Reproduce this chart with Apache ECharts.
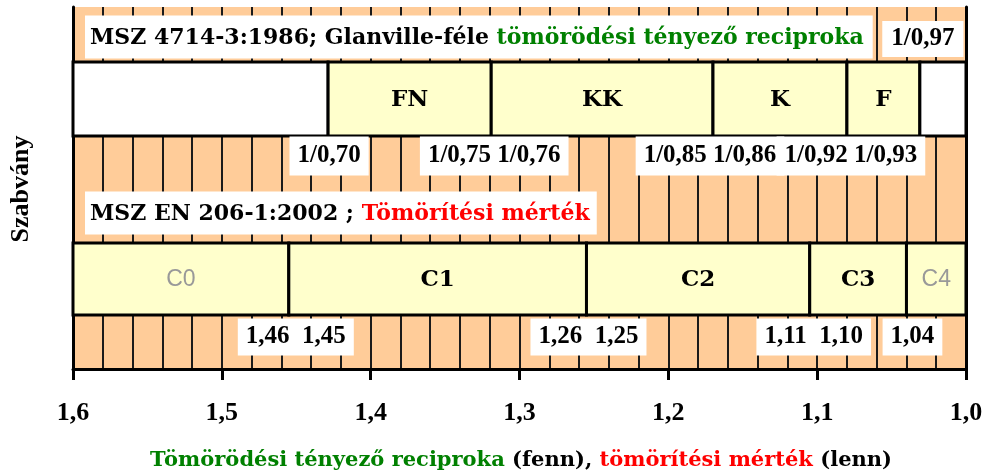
<!DOCTYPE html>
<html><head><meta charset="utf-8">
<script src="https://cdn.jsdelivr.net/npm/echarts@6/dist/echarts.min.js"></script>
<style>html,body{margin:0;padding:0;background:#fff}#c{width:987px;height:473px}</style>
</head><body><div id="c"></div>
<script>
// ---------- data ----------
const axisMin = 1.0, axisMax = 1.6, axisStep = 0.1, gridStep = 0.02;
// upper row: MSZ 4714-3:1986 (Glanville compaction factor reciprocal)
const row1Title = ['MSZ 4714-3:1986; Glanville-féle ', 'tömörödési tényező reciproka'];
const row1Bounds = [1.6, 1.4286, 1.319, 1.170, 1.080, 1.031, 1.0];
const row1Classes = ['', 'FN', 'KK', 'K', 'F', ''];
const row1BoundLabels = ['1/0,70', '1/0,75 1/0,76', '1/0,85 1/0,86', '1/0,92 1/0,93', '1/0,97'];
// lower row: MSZ EN 206-1:2002 (degree of compactability)
const row2Title = ['MSZ EN 206-1:2002 ; ', 'Tömörítési mérték'];
const row2Bounds = [1.6, 1.455, 1.255, 1.105, 1.04, 1.0];
const row2Classes = ['C0', 'C1', 'C2', 'C3', 'C4'];
const row2BoundLabels = ['1,46 1,45', '1,26 1,25', '1,11 1,10', '1,04'];
const xTitle = ['Tömörödési tényező reciproka', ' (fenn), ', 'tömörítési mérték', ' (lenn)'];
const yTitle = 'Szabvány';

// ---------- layout / style ----------
const SERIF = '"Liberation Serif", "Times New Roman", serif';
const WIDE = '"DejaVu Serif", serif';
const NUMFONT = 'bold 25px ' + SERIF;
const TFONT = 'bold 22px ' + WIDE;
const XTFONT = 'bold 21px ' + WIDE;
const SEGFONT = 'bold 23px ' + WIDE;
const ORANGE = '#FFCC99', YELLOW = '#FFFFCC', GREEN = '#008000', RED = '#FF0000';
// pixel offsets (relative to grid top)
const L = {
  row1Top: 55, row1Bot: 129, row1TitleY: 30, row1TopLabelY: 32, row1LabY: 149,
  row2TitleY: 206, row2Top: 236, row2Bot: 308, row2LabY: 330
};
// small horizontal nudges of the boundary label boxes (px)
const row1LabDx = [1, 3, -3, 4, 3];
const row2LabDx = [7, 2, 4, 6];

const segData = [];
for (let i = 0; i < row1Classes.length; i++) segData.push([row1Bounds[i], row1Bounds[i + 1], 0, i]);
for (let i = 0; i < row2Classes.length; i++) segData.push([row2Bounds[i], row2Bounds[i + 1], 1, i]);

const labData = [];
row1BoundLabels.forEach((t, i) => labData.push([row1Bounds[i + 1], 0, i]));
row2BoundLabels.forEach((t, i) => labData.push([row2Bounds[i + 1], 1, i]));

const chart = echarts.init(document.getElementById('c'), null, { renderer: 'canvas' });

function segItem(params, api) {
  const a = api.coord([api.value(0), 0])[0];
  const b = api.coord([api.value(1), 0])[0];
  const r = api.value(2), i = api.value(3);
  const cs = params.coordSys;
  const top = cs.y + (r === 0 ? L.row1Top : L.row2Top);
  const bot = cs.y + (r === 0 ? L.row1Bot : L.row2Bot);
  const x0 = Math.min(a, b), w = Math.abs(b - a);
  const name = r === 0 ? row1Classes[i] : row2Classes[i];
  const n = r === 0 ? row1Classes.length : row2Classes.length;
  const muted = r === 1 && (i === 0 || i === n - 1);
  const fill = name === '' ? '#ffffff' : YELLOW;
  const children = [{
    type: 'rect', shape: { x: x0, y: top, width: w, height: bot - top },
    style: { fill: fill, stroke: '#000', lineWidth: 3 }
  }];
  if (name) children.push({
    type: 'text', style: {
      text: name, x: x0 + w / 2, y: (top + bot) / 2 + 1, align: 'center', verticalAlign: 'middle',
      font: muted ? 'normal 23px "Liberation Sans", Arial, sans-serif' : SEGFONT,
      fill: muted ? '#999999' : '#000'
    }
  });
  return { type: 'group', children: children };
}

function makeLabItem(withBg) {
  return function (params, api) {
    const x = api.coord([api.value(0), 0])[0];
    const r = api.value(1), i = api.value(2);
    const cs = params.coordSys;
    let y, dx, text, pad;
    if (r === 0) {
      const isTop = i === row1BoundLabels.length - 1;
      y = isTop ? L.row1TopLabelY : L.row1LabY;
      dx = row1LabDx[i];
      text = row1BoundLabels[i];
      pad = isTop ? [6, 9, 4, 9] : [7, 8, 6, 8];
    } else {
      y = L.row2LabY; dx = row2LabDx[i];
      text = row2BoundLabels[i].replace(' ', '\u2002');
      pad = [6, 8, 5, 8];
    }
    const style = {
      text: text, x: x + dx, y: cs.y + y, align: 'center', verticalAlign: 'middle',
      font: NUMFONT, fill: withBg ? 'rgba(0,0,0,0)' : '#000', lineHeight: 26, padding: pad
    };
    if (withBg) style.backgroundColor = '#fff';
    return { type: 'text', style: style };
  };
}

function titleItem(params, api) {
  const x = api.coord([axisMax, 0])[0] + 12;
  const r = api.value(1);
  const cs = params.coordSys;
  const parts = r === 0 ? row1Title : row2Title;
  return {
    type: 'text', style: {
      text: '{k|' + parts[0] + '}{' + (r === 0 ? 'g' : 'r') + '|' + parts[1] + '}',
      x: x, y: cs.y + (r === 0 ? L.row1TitleY : L.row2TitleY), align: 'left', verticalAlign: 'middle',
      backgroundColor: '#fff', padding: [9, r === 0 ? 9 : 7, 7, 5],
      rich: {
        k: { font: TFONT, fill: '#000', lineHeight: 27 },
        g: { font: TFONT, fill: GREEN, lineHeight: 27 },
        r: { font: TFONT, fill: RED, lineHeight: 27 }
      }
    }
  };
}

const option = {
  animation: false,
  backgroundColor: '#fff',
  grid: { left: 73, right: 21, top: 7, bottom: 104, show: true, backgroundColor: ORANGE, borderWidth: 0 },
  xAxis: [{
    type: 'value', min: axisMin, max: axisMax, interval: axisStep, inverse: true, position: 'bottom',
    axisLine: { show: true, lineStyle: { color: '#000', width: 3 } },
    axisTick: { show: true, length: 11, lineStyle: { color: '#000', width: 3 } },
    axisLabel: {
      margin: 31, color: '#000', fontFamily: SERIF, fontWeight: 'bold', fontSize: 26,
      formatter: v => v.toFixed(1).replace('.', ',')
    },
    splitLine: { show: false }
  }, {
    type: 'value', min: axisMin, max: axisMax, interval: gridStep, inverse: true, position: 'top',
    axisLine: { show: false }, axisTick: { show: false }, axisLabel: { show: false },
    splitLine: { show: true, lineStyle: { color: '#1a1a1a', width: 2 } }
  }],
  yAxis: [
    { type: 'value', min: 0, max: 1, position: 'left',
      axisLine: { show: true, lineStyle: { color: '#000', width: 3 } },
      axisTick: { show: false }, axisLabel: { show: false }, splitLine: { show: false } },
    { type: 'value', min: 0, max: 1, position: 'right',
      axisLine: { show: true, lineStyle: { color: '#000', width: 3 } },
      axisTick: { show: false }, axisLabel: { show: false }, splitLine: { show: false } }
  ],
  series: [
    { type: 'custom', renderItem: titleItem, data: [[axisMax, 0], [axisMax, 1]], z: 3, silent: true },
    { type: 'custom', renderItem: segItem, data: segData, encode: { x: [0, 1] }, z: 4, silent: true },
    { type: 'custom', renderItem: makeLabItem(true), data: labData, encode: { x: 0 }, z: 5, silent: true },
    { type: 'custom', renderItem: makeLabItem(false), data: labData, encode: { x: 0 }, z: 6, silent: true }
  ],
  graphic: [
    { type: 'text', x: 521, y: 461,
      style: {
        text: '{g|' + xTitle[0] + '}{k|' + xTitle[1] + '}{r|' + xTitle[2] + '}{k|' + xTitle[3] + '}',
        align: 'center', verticalAlign: 'middle',
        rich: {
          g: { font: XTFONT, fill: GREEN }, k: { font: XTFONT, fill: '#000' }, r: { font: XTFONT, fill: RED }
        }
      } },
    { type: 'text', x: 21, y: 189, rotation: Math.PI / 2,
      style: { text: yTitle, font: 'bold 26px ' + SERIF, fill: '#000', align: 'center', verticalAlign: 'middle' } }
  ]
};
chart.setOption(option);
</script></body></html>
